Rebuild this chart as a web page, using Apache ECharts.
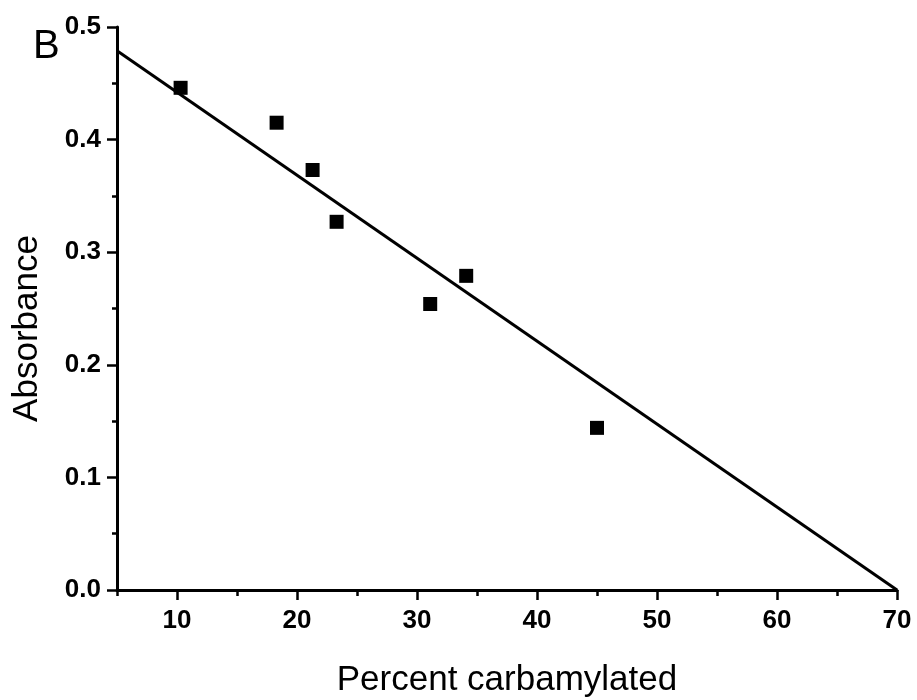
<!DOCTYPE html>
<html><head><meta charset="utf-8">
<script src="https://cdn.jsdelivr.net/npm/echarts@6/dist/echarts.min.js"></script>
<style>html,body{margin:0;padding:0;background:#fff}#c{width:917px;height:700px}</style>
</head><body><div id="c"></div>
<script>
// Data
var pctCarbamylated = [10.3, 18.3, 21.3, 23.3, 31.1, 34.1, 45.0];
var absorbance = [0.446, 0.415, 0.373, 0.327, 0.254, 0.279, 0.144];
var fitX = [5, 70];
var fitY = [0.479, 0.0];
var xTickLabels = [10, 20, 30, 40, 50, 60, 70];
var xMinorTicks = [5, 10, 15, 20, 25, 30, 35, 40, 45, 50, 55, 60, 65, 70];
var yTickLabels = [0.0, 0.1, 0.2, 0.3, 0.4, 0.5];

var font = '"Liberation Sans", Arial, sans-serif';
var chart = echarts.init(document.getElementById('c'), null, {renderer: 'canvas'});
var pts = pctCarbamylated.map(function (x, i) { return [x, absorbance[i]]; });
var fit = fitX.map(function (x, i) { return [x, fitY[i]]; });

chart.setOption({
  animation: false,
  backgroundColor: '#fff',
  grid: {left: 117, right: 20, top: 27, bottom: 110, outerBoundsMode: 'none', containLabel: false},
  xAxis: [{
    type: 'value', min: 5, max: 70,
    axisLine: {show: true, onZero: false, lineStyle: {color: '#000', width: 3}},
    axisTick: {show: true, customValues: xMinorTicks, length: 6, lineStyle: {color: '#000', width: 2.5}},
    axisLabel: {show: false},
    splitLine: {show: false},
    name: 'Percent carbamylated', nameLocation: 'middle', nameGap: 73,
    nameTextStyle: {fontFamily: font, fontSize: 35, color: '#000'}
  }, {
    type: 'value', min: 5, max: 70, position: 'bottom',
    axisLine: {show: false, onZero: false},
    axisTick: {show: true, customValues: xTickLabels, length: 10, lineStyle: {color: '#000', width: 2.5}},
    axisLabel: {show: true, customValues: xTickLabels, margin: 18, fontFamily: font, fontSize: 26, fontWeight: 'bold', color: '#000'},
    splitLine: {show: false}
  }],
  yAxis: {
    type: 'value', min: 0, max: 0.5, interval: 0.1,
    axisLine: {show: true, onZero: false, lineStyle: {color: '#000', width: 3}},
    axisTick: {show: true, length: 10, lineStyle: {color: '#000', width: 2.5}},
    minorTick: {show: true, splitNumber: 2, length: 5, lineStyle: {color: '#000', width: 2.5}},
    axisLabel: {margin: 16, fontFamily: font, fontSize: 26, fontWeight: 'bold', color: '#000',
      formatter: function (v) { return v.toFixed(1); }},
    splitLine: {show: false}, minorSplitLine: {show: false},
    name: 'Absorbance', nameLocation: 'middle', nameGap: 72, nameRotate: 90,
    nameTextStyle: {fontFamily: font, fontSize: 35, color: '#000', padding: [0, 40, 0, 0]}
  },
  graphic: [{
    type: 'text', left: 33, top: 27,
    style: {text: 'B', font: '40px "Liberation Sans", Arial, sans-serif', fill: '#000'}
  }],
  series: [{
    type: 'line', data: fit, xAxisIndex: 0, showSymbol: false, symbol: 'none',
    lineStyle: {color: '#000', width: 3}, z: 2
  }, {
    type: 'scatter', data: pts, xAxisIndex: 0, symbol: 'rect', symbolSize: 14,
    itemStyle: {color: '#000', opacity: 1}, z: 3
  }]
});
</script></body></html>
